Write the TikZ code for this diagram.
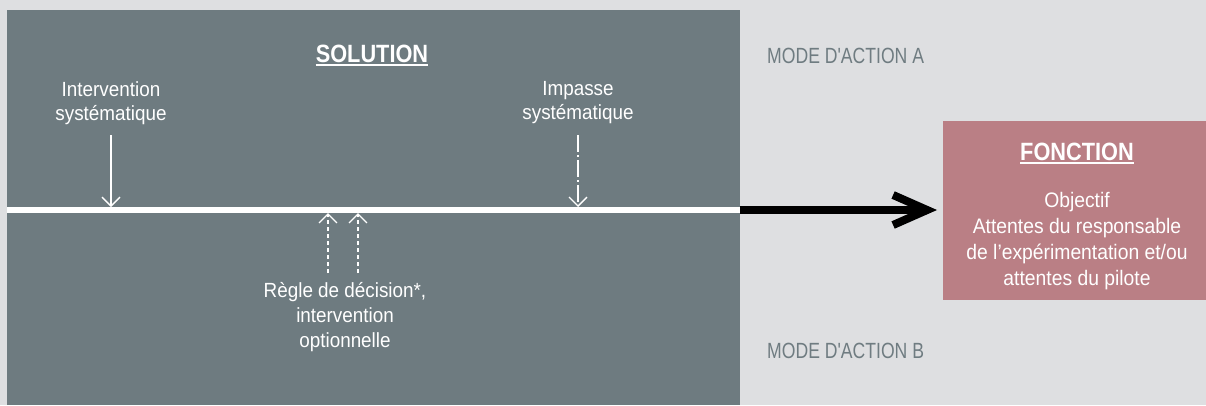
\documentclass[tikz,border=0pt]{standalone}
\usepackage{fontspec}
\setmainfont{Liberation Sans}[FakeStretch=0.92]
\newfontfamily\titlefont{Liberation Sans}[FakeStretch=0.87]
\newfontfamily\modefont{Liberation Sans}[FakeStretch=0.80]
\usetikzlibrary{arrows.meta}
\definecolor{bgc}{RGB}{222,223,225}
\definecolor{darkc}{RGB}{110,123,128}
\definecolor{pinkc}{RGB}{186,127,133}
\definecolor{modec}{RGB}{111,124,129}
\tikzset{
  box/.style={fill=#1, draw=none, inner sep=0pt, anchor=north west},
  titletext/.style={text=white, inner sep=0pt, anchor=base, font=\titlefont\bfseries\fontsize{25}{30}\selectfont},
  bodytext/.style={text=white, inner sep=0pt, anchor=base, align=center, font=\fontsize{20.5}{24}\selectfont},
  fcttext/.style={text=white, inner sep=0pt, anchor=base, align=center, font=\fontsize{21}{26}\selectfont},
  modetext/.style={text=modec, inner sep=0pt, anchor=base west, font=\modefont\fontsize{22}{26}\selectfont},
  thinarrow/.style={white, line width=1.3pt, -{Straight Barb[length=9pt,width=18pt]}},
}
\begin{document}
\begin{tikzpicture}[x=1pt,y=-1pt]
\fill[bgc] (0,0) rectangle (1206,405);
\useasboundingbox (0,0) rectangle (1206,405);
% boxes
\node[box=darkc, minimum width=733pt, minimum height=395pt] (sol) at (7,10) {};
\node[box=pinkc, minimum width=263pt, minimum height=179pt] (fct) at (943,121) {};
% axis
\coordinate (lineL) at (7,210);
\coordinate (lineR) at (740,210);
\draw[white, line width=6pt] (lineL) -- (lineR);
\draw[black, line width=8pt, shorten >=6pt, -{Straight Barb[length=34pt,width=30pt]}] (lineR) -- (fct.west |- lineR);
% titles
\node[titletext] (soltitle) at (372,62) {SOLUTION};
\draw[white, line width=2pt] ([yshift=-3pt]soltitle.base west) -- ([yshift=-3pt]soltitle.base east);
\node[titletext] (fcttitle) at (1077,160) {FONCTION};
\draw[white, line width=1.5pt] ([yshift=-3pt]fcttitle.base west) -- ([yshift=-3pt]fcttitle.base east);
% texts (base anchor = baseline of last line)
\node[bodytext] (interv) at (111,120) {Intervention\\systématique};
\node[bodytext] (impasse) at (578,119) {Impasse\\systématique};
\node[bodytext, font=\fontsize{20.5}{25}\selectfont] (regle) at (345,347) {Règle de décision*,\\intervention\\optionnelle};
\node[fcttext] (fcttxt) at (1077,285) {Objectif\\Attentes du responsable\\de l’expérimentation et/ou\\attentes du pilote};
\node[modetext] (modeA) at (767,63) {MODE D'ACTION A};
\node[modetext] (modeB) at (767,358) {MODE D'ACTION B};
% arrows
\coordinate (a1s) at (111,135); \coordinate (a1e) at (111,207);
\coordinate (a2s) at (578,135); \coordinate (a2e) at (578,207);
\coordinate (a3s) at (328,273); \coordinate (a3e) at (328,213);
\coordinate (a4s) at (358,273); \coordinate (a4e) at (358,213);
\draw[thinarrow] (a1s) -- (a1e);
\draw[thinarrow, dash pattern=on 17pt off 3pt on 2pt off 3pt] (a2s) -- (a2e);
\draw[thinarrow, dash pattern=on 4pt off 3pt] (a3s) -- (a3e);
\draw[thinarrow, dash pattern=on 4pt off 3pt] (a4s) -- (a4e);
\end{tikzpicture}
\end{document}
